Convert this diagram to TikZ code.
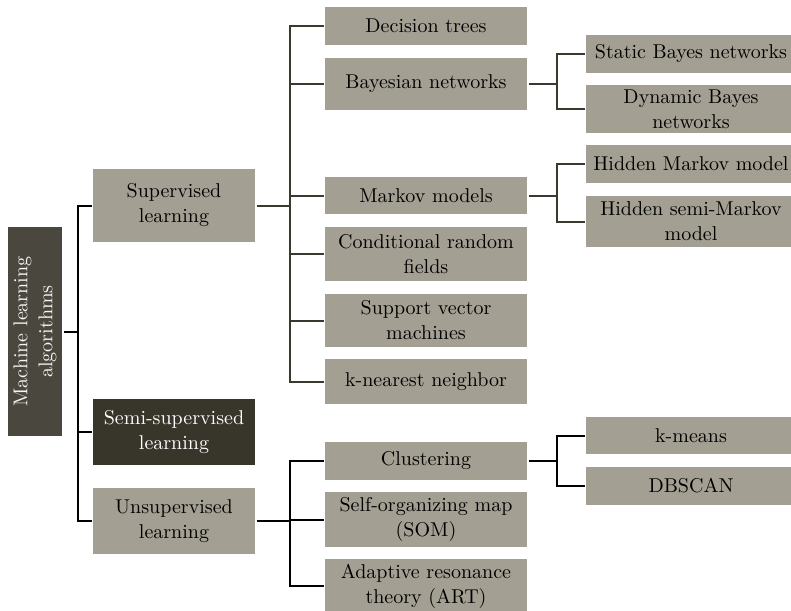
\documentclass[tikz,border=0pt]{standalone}
\usepackage{fontspec}
\setmainfont{lmroman10-regular}[Extension=.otf]
\definecolor{boxgray}{HTML}{A39F92}
\definecolor{rootgray}{HTML}{4A483E}
\definecolor{semidark}{HTML}{38352A}
\definecolor{linedark}{HTML}{3A392E}
\tikzset{
  mlbox/.style={fill=boxgray, inner sep=0pt, outer sep=1.5pt, align=center,
    font=\fontsize{20}{25}\selectfont, text=black},
  lvlone/.style={mlbox, minimum width=162pt},
  lvltwo/.style={mlbox, minimum width=202pt},
  lvlthree/.style={mlbox, minimum width=210pt},
  branch/.style={draw=linedark, line width=2pt},
}
\begin{document}
\begin{tikzpicture}[x=1pt,y=-1pt]
    \useasboundingbox (0,0) rectangle (791,610);
    \clip (0,0) rectangle (791,610);
    % root and first level
    \node[mlbox, fill=rootgray, text=white!90!boxgray, rotate=90, minimum width=209pt, minimum height=54pt] (root) at (35,331.5) {Machine learning\\algorithms};
    \node[lvlone, minimum height=73pt] (sup) at (174,205.5) {Supervised\\learning};
    \node[lvlone, fill=semidark, text=white, minimum height=66pt] (semi) at (174,432) {Semi-supervised\\learning};
    \node[lvlone, minimum height=66pt] (unsup) at (174,521) {Unsupervised\\learning};
    % supervised methods
    \node[lvltwo, minimum height=38pt] (dt) at (426,26) {Decision trees};
    \node[lvltwo, minimum height=52pt] (bn) at (426,84) {Bayesian networks};
    \node[lvltwo, minimum height=37pt] (mm) at (426,195.5) {Markov models};
    \node[lvltwo, minimum height=54pt] (crf) at (426,254) {Conditional random\\fields};
    \node[lvltwo, minimum height=53pt] (svm) at (426,320.5) {Support vector\\machines};
    \node[lvltwo, minimum height=45pt] (knn) at (426,381.5) {k-nearest neighbor};
    % unsupervised methods
    \node[lvltwo, minimum height=38pt] (clu) at (426,461) {Clustering};
    \node[lvltwo, minimum height=55pt] (som) at (426,519.5) {Self-organizing map\\(SOM)};
    \node[lvltwo, minimum height=54pt] (art) at (426,586) {Adaptive resonance\\theory (ART)};
    % third level
    \node[lvlthree, minimum height=38pt] (sbn) at (691,54) {Static Bayes networks};
    \node[lvlthree, minimum height=48pt] (dbn) at (691,109) {Dynamic Bayes\\networks};
    \node[lvlthree, minimum height=38pt] (hmm) at (691,164) {Hidden Markov model};
    \node[lvlthree, minimum height=51pt] (hsmm) at (691,221.5) {Hidden semi-Markov\\model};
    \node[lvlthree, minimum height=37pt] (km) at (691,435.5) {k-means};
    \node[lvlthree, minimum height=38pt] (dbs) at (691,486) {DBSCAN};
    % bus positions
    \coordinate (trunk) at (78,0);
    \coordinate (supbus) at (290,0);
    \coordinate (leafbus) at (557,0);
    % connectors
    \draw[branch, draw=black] (root.south) -- (root.south -| trunk);
    \draw[branch, draw=black] (sup.west) -- (sup.west -| trunk) -- (unsup.west -| trunk) -- (unsup.west);
    \draw[branch, draw=black] (semi.west) -- (semi.west -| trunk);
    \draw[branch] (sup.east) -- (sup.east -| supbus);
    \draw[branch] (dt.west) -- (dt.west -| supbus) -- (knn.west -| supbus) -- (knn.west);
    \foreach \n in {bn,mm,crf,svm}
        \draw[branch] (\n.west) -- (\n.west -| supbus);
    \draw[branch, draw=black] (unsup.east) -- (unsup.east -| supbus);
    \draw[branch, draw=black] (clu.west) -- (clu.west -| supbus) -- (art.west -| supbus) -- (art.west);
    \draw[branch, draw=black] (som.west) -- (som.west -| supbus);
    \draw[branch] (bn.east) -- (bn.east -| leafbus);
    \draw[branch] (sbn.west) -- (sbn.west -| leafbus) -- (dbn.west -| leafbus) -- (dbn.west);
    \draw[branch] (mm.east) -- (mm.east -| leafbus);
    \draw[branch] (hmm.west) -- (hmm.west -| leafbus) -- (hsmm.west -| leafbus) -- (hsmm.west);
    \draw[branch, draw=black] (clu.east) -- (clu.east -| leafbus);
    \draw[branch, draw=black] (km.west) -- (km.west -| leafbus) -- (dbs.west -| leafbus) -- (dbs.west);
\end{tikzpicture}
\end{document}
